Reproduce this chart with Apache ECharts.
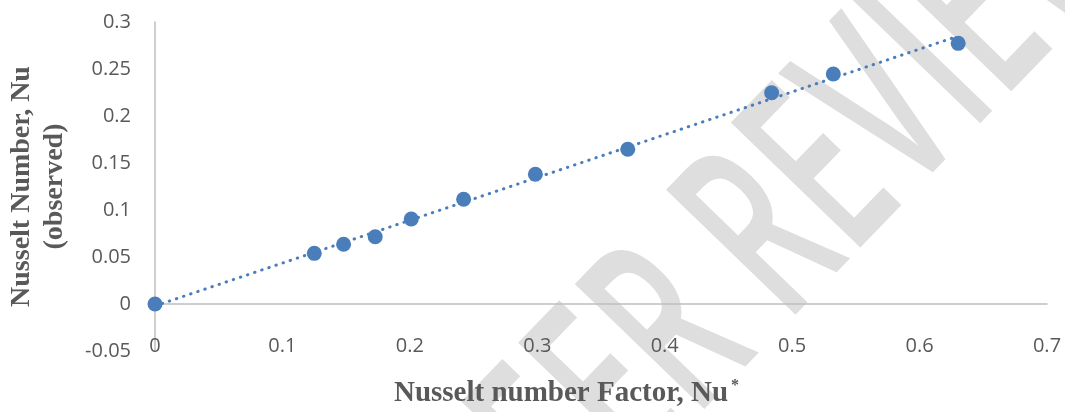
<!DOCTYPE html>
<html>
<head>
<meta charset="utf-8">
<script src="https://cdn.jsdelivr.net/npm/echarts@6/dist/echarts.min.js"></script>
<style>html,body{margin:0;padding:0;background:#fff;}#c{width:1065px;height:412px;}</style>
</head>
<body>
<div id="c"></div>
<script>
// Observed points (Nu* , Nu observed)
const nuFactor = [0, 0.125, 0.148, 0.1728, 0.2011, 0.2422, 0.2985, 0.371, 0.4839, 0.5323, 0.6303];
const nuObserved = [0, 0.0539, 0.0635, 0.0716, 0.0904, 0.1114, 0.138, 0.1646, 0.2248, 0.2447, 0.2773];
// Linear trendline endpoints
const trendX = [0, 0.6303];
const trendY = [-0.002, 0.285];
// Axis tick settings
const xTicks = {min: 0, max: 0.7, interval: 0.1};
const yTicks = {min: -0.05, max: 0.3, interval: 0.05};

const blue = '#4A7EBB';
const axisGray = '#BFBFBF';
const labelGray = '#595959';

const chart = echarts.init(document.getElementById('c'), null, {renderer: 'canvas'});
chart.setOption({
  animation: false,
  backgroundColor: '#fff',
  grid: {left: 155, right: 18, top: 22, bottom: 61, containLabel: false, outerBoundsMode: 'none'},
  graphic: [{
    type: 'text',
    z: -10,
    x: 785, y: 222,
    rotation: 46 * Math.PI / 180,
    scaleX: 0.58, scaleY: 1,
    silent: true,
    style: {
      text: 'PEER REVIEW',
      font: '600 252px "Open Sans"',
      fill: '#DEDEDE',
      align: 'center',
      verticalAlign: 'middle'
    }
  }],
  xAxis: [{
    type: 'value', min: xTicks.min, max: xTicks.max, interval: xTicks.interval,
    axisLine: {show: true, onZero: true, lineStyle: {color: axisGray, width: 1.5}},
    axisTick: {show: false}, axisLabel: {show: false}, splitLine: {show: false}
  }, {
    type: 'value', min: xTicks.min, max: xTicks.max, interval: xTicks.interval,
    position: 'bottom',
    axisLine: {show: false, onZero: false},
    axisTick: {show: false}, splitLine: {show: false},
    axisLabel: {color: labelGray, fontFamily: 'Open Sans', fontSize: 20, margin: -15},
    name: '{t|Nusselt number Factor, Nu}{s|*}',
    nameLocation: 'middle', nameGap: 27,
    nameTextStyle: {
      padding: [0, 69, 0, 0],
      rich: {
        t: {fontFamily: 'Liberation Serif', fontWeight: 'bold', fontSize: 29, color: labelGray},
        s: {fontFamily: 'Liberation Serif', fontWeight: 'bold', fontSize: 16, color: labelGray, verticalAlign: 'top', padding: [0, 0, 16, 3]}
      }
    }
  }],
  yAxis: {
    type: 'value', min: yTicks.min, max: yTicks.max, interval: yTicks.interval,
    axisLine: {show: true, onZero: true, lineStyle: {color: axisGray, width: 1.5}},
    axisTick: {show: false}, splitLine: {show: false},
    axisLabel: {color: labelGray, fontFamily: 'Open Sans', fontSize: 20, margin: 24},
    name: 'Nusselt Number, Nu\n(observed)',
    nameLocation: 'middle', nameGap: 84, nameRotate: 90,
    nameTextStyle: {fontFamily: 'Liberation Serif', fontWeight: 'bold', fontSize: 28, color: labelGray, lineHeight: 33}
  },
  series: [{
    type: 'line',
    name: 'trend',
    xAxisIndex: 0,
    data: trendX.map((x, i) => [x, trendY[i]]),
    showSymbol: false, symbol: 'none',
    lineStyle: {color: blue, width: 3, type: [0.5, 7], cap: 'round'},
    z: 2
  }, {
    type: 'scatter',
    name: 'observed',
    xAxisIndex: 0,
    data: nuFactor.map((x, i) => [x, nuObserved[i]]),
    symbolSize: 15,
    itemStyle: {color: blue, opacity: 1},
    z: 3
  }]
});
</script>
</body>
</html>
